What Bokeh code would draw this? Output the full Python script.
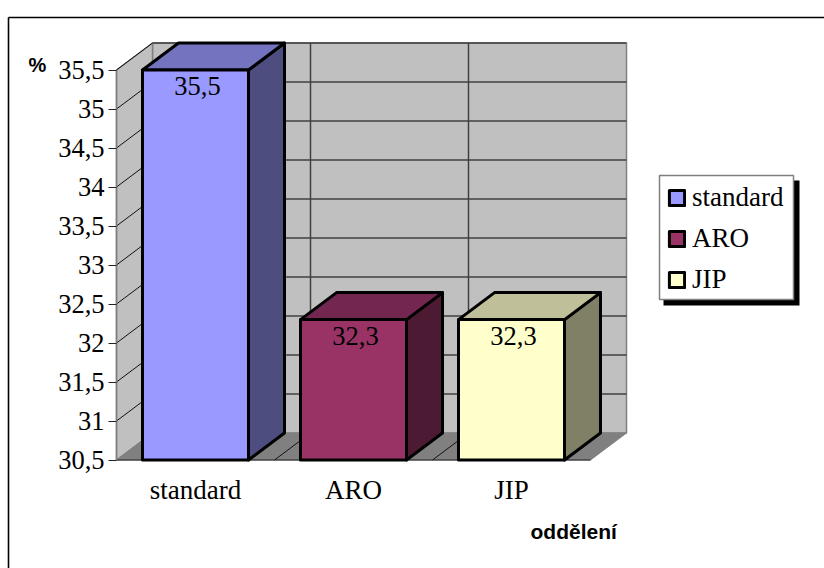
from bokeh.embed import file_html
from bokeh.resources import INLINE
from bokeh.plotting import figure
from bokeh.models import FixedTicker, Label, Legend, LegendItem, LinearAxis, Range1d
from bokeh.core.properties import value

# Chart data
categories = ["standard", "ARO", "JIP"]
values = [35.5, 32.3, 32.3]
value_labels = ["35,5", "32,3", "32,3"]
y_ticks = [30.5, 31, 31.5, 32, 32.5, 33, 33.5, 34, 34.5, 35, 35.5]
y_tick_labels = ["30,5", "31", "31,5", "32", "32,5", "33", "33,5", "34", "34,5", "35", "35,5"]
front_colors = ["#9999FF", "#993366", "#FFFFCC"]
top_colors = ["#7373BF", "#732650", "#BFBF99"]
side_colors = ["#4D4D80", "#4D1A33", "#808066"]

# Layout of the pseudo-3D box, in pixels
WIDTH, HEIGHT = 824, 568
LEFT, BASE = 116, 459.5
PX_X, PX_Y = 158.0, 78.0          # pixels per category / per percentage unit
DEPTH_PX_X, DEPTH_PX_Y = 36, 27
BAR_PX = 106
FIRST_CENTER_PX = 195

y0 = y_ticks[0]
y1 = y_ticks[-1]
dx = DEPTH_PX_X / PX_X
dy = DEPTH_PX_Y / PX_Y
half = BAR_PX / PX_X / 2
slots = len(categories)
x_left = -0.5
x_right = x_left + slots


def x_at(px):
    return (px - FIRST_CENTER_PX) / PX_X


def y_at(px):
    return y0 + (BASE - px) / PX_Y


p = figure(width=WIDTH, height=HEIGHT, output_backend="svg", toolbar_location=None,
           x_range=Range1d(x_at(0), x_at(WIDTH)), y_range=Range1d(y_at(HEIGHT), y_at(0)),
           min_border=0, x_axis_location=None, y_axis_location=None,
           outline_line_color=None, background_fill_color="white")
p.grid.visible = False

# Walls and floor
GRID = "#404040"
EDGE = "#808080"
p.patch([x_left + dx, x_right + dx, x_right + dx, x_left + dx],
        [y0 + dy, y0 + dy, y1 + dy, y1 + dy],
        fill_color="#C0C0C0", line_color=EDGE, line_width=1.5)
p.patch([x_left, x_left + dx, x_left + dx, x_left],
        [y0, y0 + dy, y1 + dy, y1],
        fill_color="#C0C0C0", line_color=EDGE, line_width=1.5)
p.patch([x_left, x_left + dx, x_right + dx, x_right],
        [y0, y0 + dy, y0 + dy, y0],
        fill_color="#808080", line_color=EDGE, line_width=1)

# Gridlines across both walls
for t in y_ticks[1:]:
    p.line([x_left, x_left + dx], [t, t + dy], line_color="#111111", line_width=1)
    p.line([x_left + dx, x_right + dx], [t + dy, t + dy], line_color=GRID, line_width=1.5)
for k in range(1, slots):
    p.line([x_left + k, x_left + k + dx], [y0, y0 + dy], line_color="#111111", line_width=1)
    p.line([x_left + k + dx, x_left + k + dx], [y0 + dy, y1 + dy], line_color=GRID, line_width=1.5)
p.line([x_left, x_right], [y0, y0], line_color="#222222", line_width=1.2)

# Bars: side, top, then front
BAR_LINE = 3
centers = list(range(slots))
lefts = [c - half for c in centers]
rights = [c + half for c in centers]
p.patches([[r, r + dx, r + dx, r] for r in rights],
          [[y0, y0 + dy, v + dy, v] for v in values],
          fill_color=side_colors, line_color="black", line_width=BAR_LINE, line_join="round")
p.patches([[l, l + dx, r + dx, r] for l, r in zip(lefts, rights)],
          [[v, v + dy, v + dy, v] for v in values],
          fill_color=top_colors, line_color="black", line_width=BAR_LINE, line_join="round")
bars = p.quad(left=lefts, right=rights, bottom=[y0] * slots, top=values,
              fill_color=front_colors, line_color="black", line_width=BAR_LINE,
              line_join="round")

# Value labels just under each bar's top edge
p.text(centers, values, text=value_labels, text_font=value("Liberation Serif"),
       text_font_size="26.5px", text_color="#000000", text_align="center",
       text_baseline="top", x_offset=2, y_offset=7)

# Axes sit at fixed data positions so the frame can span the whole page
yaxis = LinearAxis(ticker=FixedTicker(ticks=y_ticks),
                   major_label_overrides=dict(zip(y_ticks, y_tick_labels)),
                   fixed_location=x_left,
                   bounds=(y0, y1), axis_line_color=EDGE, axis_line_width=1.5,
                   major_tick_in=0, major_tick_out=8, major_tick_line_color="#222222",
                   major_tick_line_width=1.2, minor_tick_line_color=None,
                   major_label_text_font="Liberation Serif", major_label_text_font_size="26.5px",
                   major_label_text_color="#000000", major_label_standoff=4)
p.add_layout(yaxis, "left")

xaxis = LinearAxis(ticker=FixedTicker(ticks=centers),
                   major_label_overrides=dict(zip(centers, categories)),
                   fixed_location=y0,
                   bounds=(x_left, x_right), axis_line_color=None,
                   major_tick_line_color=None, minor_tick_line_color=None,
                   major_label_text_font="Liberation Serif", major_label_text_font_size="27px",
                   major_label_text_color="#000000", major_label_standoff=9)
p.add_layout(xaxis, "below")

# Axis captions
p.add_layout(Label(x=x_at(28), y=y_at(75), text="%", text_font="Liberation Sans",
                   text_font_style="bold", text_font_size="20px", text_color="#000000"))
p.add_layout(Label(x=x_at(530), y=y_at(542), text="oddělení", text_font="Liberation Sans",
                   text_font_style="bold", text_font_size="21px", text_color="#000000"))

# Chart area border: top and left edges only
p.line([x_at(8), x_at(WIDTH)], [y_at(17), y_at(17)], line_color="black", line_width=1.6)
p.line([x_at(8), x_at(8)], [y_at(17), y_at(HEIGHT)], line_color="black", line_width=1.6)

# Legend panel with its drop shadow
p.quad(left=[x_at(663)], right=[x_at(799)], top=[y_at(180)], bottom=[y_at(305)],
       fill_color="black", line_color=None)
p.quad(left=[x_at(659)], right=[x_at(793)], top=[y_at(175)], bottom=[y_at(299)],
       fill_color="white", line_color=EDGE, line_width=1.5)
legend = Legend(items=[LegendItem(label=c, renderers=[bars], index=i)
                       for i, c in enumerate(categories)],
                location=(667, 273), orientation="vertical",
                glyph_width=19, glyph_height=19, label_text_font="Liberation Serif",
                label_text_font_size="27px", label_text_color="#000000", label_standoff=6,
                label_height=24, spacing=10, padding=0, margin=0, border_line_color=None,
                background_fill_alpha=0, label_text_baseline="middle")
p.add_layout(legend, "center")

open("out.html", "w").write(file_html(p, INLINE))
